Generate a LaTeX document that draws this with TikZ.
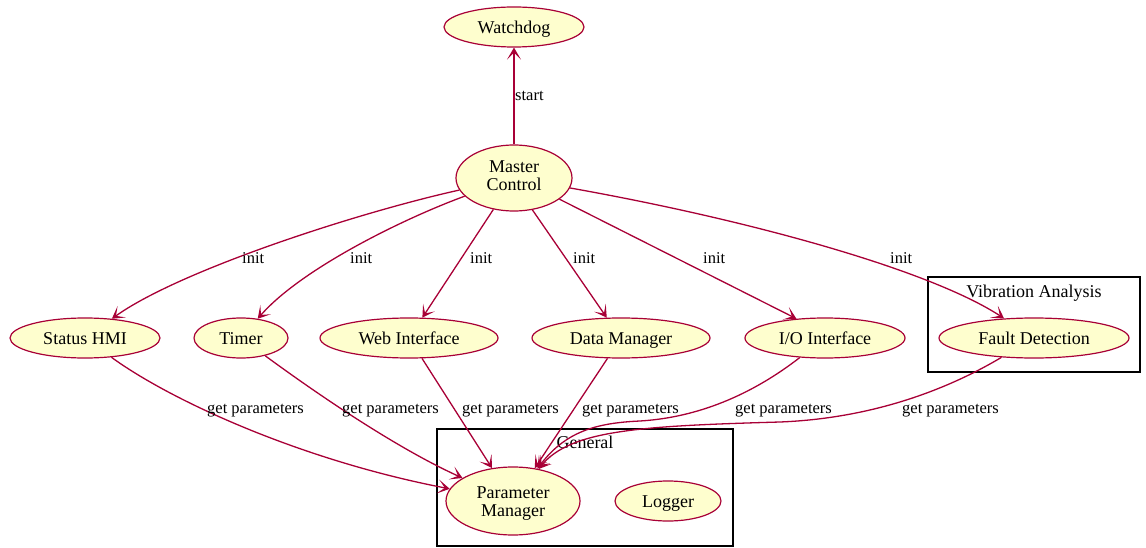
\documentclass[tikz,border=0pt]{standalone}
\usepackage{fontspec}
\setmainfont{Liberation Serif}
\usepackage{tikz}
\usetikzlibrary{positioning, shapes.geometric, arrows.meta}
\definecolor{umlborder}{HTML}{A80036}
\definecolor{umlfill}{HTML}{FEFECE}
\tikzstyle{usecase} = [ellipse, inner sep=0pt, draw=umlborder, fill=umlfill, line width=1.2pt, align=center, font=\fontsize{18}{18}\selectfont, minimum height=40pt, text height=13pt, text depth=0pt]
\tikzstyle{cluster} = [draw=black, line width=2.4pt]
\tikzstyle{clustertitle} = [inner sep=0pt, anchor=base, font=\fontsize{18}{19}\selectfont]
\tikzstyle{edgelabel} = [inner sep=0pt, anchor=base west, font=\fontsize{16.5}{18}\selectfont]
\tikzstyle{conn} = [draw=umlborder, line width=1.3pt, -{Stealth[length=12pt, width=14pt, inset=7pt]}]

\begin{document}
\begin{tikzpicture}[x=1pt, y=-1pt]
        \useasboundingbox (0,0) rectangle (1146,548);

        % packages
        \draw[cluster] (928,277) rectangle (1140,372);
        \node[clustertitle]                                   (vibtitle) at (1034,297) {Vibration Analysis};
        \draw[cluster] (437,429) rectangle (733,546);
        \node[clustertitle]                                   (gentitle) at (585,448)  {General};

        % components
        \node[usecase, minimum width=140pt]                   (watchdog) at (514,27)   {Watchdog};
        \node[usecase, minimum width=116pt, minimum height=66pt, text height=30.5pt, text depth=5pt] (master) at (514,178) {Master\\Control};
        \node[usecase, minimum width=150pt]                   (hmi)      at (85,338)   {Status HMI};
        \node[usecase, minimum width=94pt]                    (timer)    at (241,338)  {Timer};
        \node[usecase, minimum width=178pt]                   (web)      at (409,338)  {Web Interface};
        \node[usecase, minimum width=178pt]                   (data)     at (621,338)  {Data Manager};
        \node[usecase, minimum width=160pt]                   (io)       at (825,338)  {I/O Interface};
        \node[usecase, minimum width=190pt]                   (fault)    at (1034,338) {Fault Detection};
        \node[usecase, minimum width=134pt, minimum height=68pt, text height=31pt, text depth=0pt] (params) at (513,501) {Parameter\\Manager};
        \node[usecase, minimum width=106pt]                   (logger)   at (668,501)  {Logger};

        % master control
        \draw[conn] (master) -- (watchdog);
        \draw[conn] (master) .. controls (360,212) and (180,270) .. (hmi);
        \draw[conn] (master) .. controls (400,220) and (300,270) .. (timer);
        \draw[conn] (master) -- (web);
        \draw[conn] (master.300) -- (data.125);
        \draw[conn] (master.335) -- (io.146);
        \draw[conn] (master) .. controls (750,220) and (930,270) .. (fault);

        % parameter requests
        \draw[conn] (hmi) .. controls (170,400) and (300,460) .. (params);
        \draw[conn] (timer) .. controls (305,385) and (390,445) .. (params);
        \draw[conn] (web) -- (params);
        \draw[conn] (data) -- (params);
        \draw[conn] (io) .. controls (745,400) and (690,418) .. (640,421) .. controls (595,423) and (565,432) .. (params);
        \draw[conn] (fault) .. controls (955,385) and (880,418) .. (780,422) .. controls (640,426) and (570,430) .. (params);

        % labels
        \node[edgelabel] (lstart) at (515,101)   {start};
        \node[edgelabel] (linit1) at (242,263.5) {init};
        \node[edgelabel] (linit2) at (350,263.5) {init};
        \node[edgelabel] (linit3) at (470,263.5) {init};
        \node[edgelabel] (linit4) at (573,263.5) {init};
        \node[edgelabel] (linit5) at (703,263.5) {init};
        \node[edgelabel] (linit6) at (890,263.5) {init};
        \node[edgelabel] (lget1)  at (207,413.5) {get parameters};
        \node[edgelabel] (lget2)  at (342,413.5) {get parameters};
        \node[edgelabel] (lget3)  at (462,413.5) {get parameters};
        \node[edgelabel] (lget4)  at (582,413.5) {get parameters};
        \node[edgelabel] (lget5)  at (735,413.5) {get parameters};
        \node[edgelabel] (lget6)  at (902,413.5) {get parameters};
    \end{tikzpicture}
\end{document}
